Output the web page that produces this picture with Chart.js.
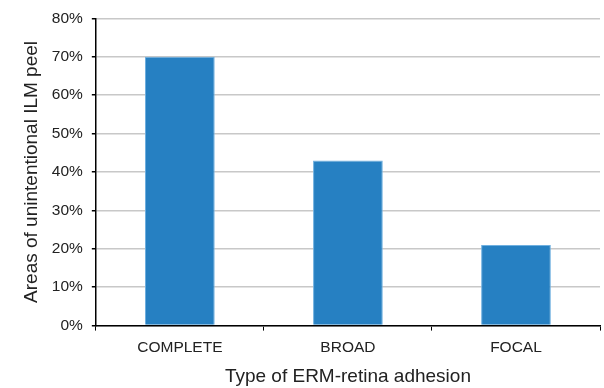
<!DOCTYPE html>
<html>
<head>
<meta charset="utf-8">
<script src="https://cdn.jsdelivr.net/npm/chart.js@4/dist/chart.umd.min.js"></script>
<style>
  html, body { margin: 0; padding: 0; background: #fff; }
  #wrap { width: 604px; height: 388px; }
</style>
</head>
<body>
<div id="wrap"><canvas id="chart"></canvas></div>
<script>
// Data
const categories = ["COMPLETE", "BROAD", "FOCAL"];
const areaPeel = [70, 43, 21];
const yTicks = [0, 10, 20, 30, 40, 50, 60, 70, 80];

const font = "'Liberation Sans', Arial, Helvetica, sans-serif";

const ctx = document.getElementById("chart").getContext("2d");
new Chart(ctx, {
    type: "bar",
    data: {
        labels: categories,
        datasets: [{
            data: areaPeel,
            backgroundColor: "#2680c2",
            borderColor: "#6fb0e0",
            borderWidth: 1,
            barPercentage: 0.83,
            categoryPercentage: 0.5,
        }],
    },
    options: {
        responsive: true,
        maintainAspectRatio: false,
        animation: false,
        layout: { padding: { top: 17, right: 4, left: 20, bottom: 0 } },
        plugins: {
            legend: { display: false },
            tooltip: { enabled: false },
        },
        scales: {
            x: {
                offset: true,
                grid: {
                    offset: true,
                    drawOnChartArea: false,
                    tickLength: 5,
                    tickColor: "#000",
                },
                border: { color: "#000", width: 1.5 },
                ticks: { color: "#222", font: { family: font, size: 15.5 }, padding: 8 },
                title: {
                    display: true,
                    text: "Type of ERM-retina adhesion",
                    color: "#222",
                    font: { family: font, size: 19 },
                    padding: { top: 0, bottom: 0 },
                },
            },
            y: {
                min: 0,
                max: 80,
                afterBuildTicks: axis => { axis.ticks = yTicks.map(v => ({ value: v })); },
                grid: {
                    color: "#c8c8c8",
                    lineWidth: 1.5,
                    tickLength: 4,
                    tickColor: "#000",
                },
                border: { color: "#000", width: 1.5 },
                ticks: {
                    color: "#222",
                    font: { family: font, size: 15.5 },
                    padding: 9,
                    callback: v => v + "%",
                },
                title: {
                    display: true,
                    text: "Areas of unintentional ILM peel",
                    color: "#222",
                    font: { family: font, size: 19 },
                    padding: { top: 0, bottom: 0 },
                },
            },
        },
    },
});
</script>
</body>
</html>
